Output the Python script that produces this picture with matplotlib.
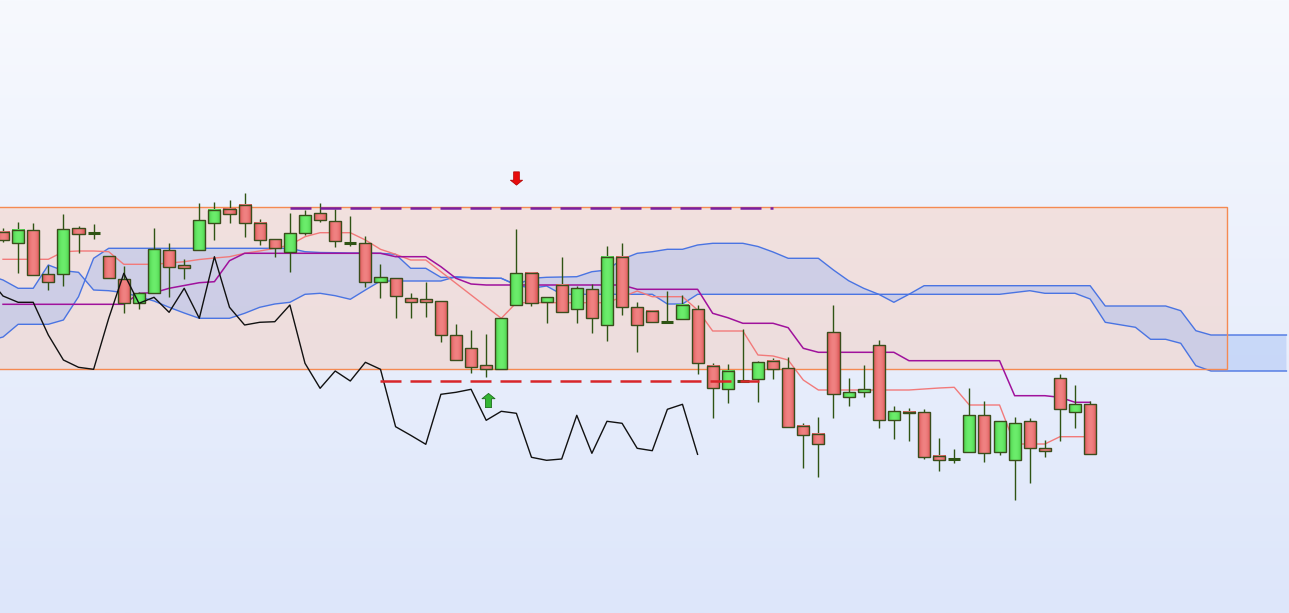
import numpy as np
import matplotlib
matplotlib.use("Agg")
import matplotlib.pyplot as plt
from matplotlib.patches import Rectangle
from matplotlib.path import Path
from matplotlib.colors import to_rgb

# ---- price data (arbitrary price units) ----
opens = [381.3, 369.7, 383.0, 338.7, 338.7, 384.7, 380.3, 357.0, 334.0, 309.7,
         320.3, 363.0, 348.0, 363.0, 389.7, 404.0, 408.0, 390.3, 373.7, 361.3,
         380.0, 399.7, 392.0, 370.3, 369.7, 330.7, 334.7, 314.7, 313.7, 312.0,
         278.0, 264.7, 247.7, 243.7, 308.0, 340.3, 310.7, 328.0, 303.7, 323.7,
         288.0, 356.3, 305.7, 302.3, 291.3, 293.7, 303.7, 247.3, 223.7, 232.0,
         233.7, 252.0, 244.7, 187.0, 179.0, 280.7, 216.3, 220.7, 267.7, 192.7,
         201.3, 200.7, 157.0, 154.0, 160.7, 197.7, 161.3, 152.7, 191.7, 164.7,
         234.7, 201.3, 208.7]
highs = [385.0, 391.3, 389.7, 348.0, 399.0, 387.3, 389.0, 357.0, 347.0, 321.3,
         384.7, 370.3, 354.0, 410.3, 411.3, 413.0, 420.3, 393.7, 373.7, 399.7,
         403.0, 410.3, 403.7, 397.0, 377.0, 349.0, 334.7, 319.7, 331.3, 312.0,
         289.0, 283.0, 279.0, 294.7, 384.0, 340.3, 315.7, 355.7, 327.0, 329.0,
         367.0, 369.7, 311.3, 302.3, 322.0, 318.0, 308.0, 249.7, 248.7, 283.7,
         252.3, 254.7, 255.7, 189.7, 196.3, 308.0, 234.7, 248.0, 273.0, 207.0,
         205.0, 203.7, 174.7, 163.7, 225.0, 211.7, 191.7, 196.3, 194.7, 173.0,
         239.0, 228.0, 212.3]
lows = [371.0, 340.3, 338.0, 323.0, 327.0, 359.7, 374.0, 335.0, 299.7, 303.7,
        320.3, 315.7, 334.0, 363.0, 373.0, 389.7, 376.3, 368.0, 356.3, 341.3,
        378.0, 391.0, 366.3, 367.0, 326.3, 314.7, 294.7, 294.7, 296.3, 271.3,
        253.0, 240.3, 236.3, 243.7, 308.0, 307.3, 290.3, 300.7, 290.3, 280.3,
        272.3, 298.0, 261.3, 290.7, 291.3, 293.7, 238.7, 194.7, 209.7, 231.3,
        211.3, 233.7, 186.3, 145.3, 136.3, 194.7, 207.0, 215.7, 185.3, 174.0,
        172.3, 153.7, 142.3, 149.7, 160.7, 151.3, 158.0, 113.0, 129.7, 155.7,
        172.3, 185.3, 158.7]
closes = [373.0, 383.0, 338.0, 330.7, 383.7, 378.7, 380.3, 335.3, 310.3, 319.7,
          364.0, 346.3, 345.3, 393.0, 403.0, 398.7, 389.7, 373.0, 365.3, 379.7,
          398.0, 393.0, 372.0, 370.3, 330.7, 335.7, 317.0, 310.7, 310.7, 278.0,
          253.0, 245.7, 243.7, 294.7, 339.7, 309.7, 315.7, 300.7, 324.7, 294.7,
          356.3, 305.7, 288.0, 290.7, 291.3, 308.0, 249.7, 224.7, 242.0, 232.0,
          250.7, 243.7, 186.3, 177.7, 168.7, 218.7, 220.7, 223.7, 192.7, 201.7,
          199.7, 155.7, 152.7, 154.0, 197.7, 159.7, 191.7, 189.7, 164.7, 162.3,
          203.7, 208.7, 158.7]

tenkan = [353.7, 353.7, 353.7, 353.7, 361.3, 362.0, 362.0, 361.3, 348.7, 348.7,
          348.7, 350.0, 351.3, 353.5, 355.0, 356.3, 359.7, 362.0, 364.7, 368.0,
          376.3, 380.3, 380.3, 380.3, 373.0, 363.7, 358.7, 353.0, 353.0, 341.3,
          329.7, 318.0, 306.3, 294.7, 310.3, 310.3, 310.3, 310.3, 310.3, 310.3,
          310.3, 316.0, 322.0, 316.3, 316.3, 316.3, 303.0, 282.0, 282.0, 282.0,
          258.0, 257.0, 253.0, 233.0, 223.0, 223.0, 223.0, 223.0, 223.0, 223.0,
          223.0, 224.0, 225.0, 225.7, 208.0, 208.0, 208.0, 169.0, 169.0, 169.0,
          176.3, 176.3, 176.3]
kijun = [308.7, 308.7, 308.7, 308.7, 308.7, 308.7, 308.7, 308.7, 308.7, 319.7,
         320.3, 324.7, 327.5, 330.3, 331.3, 352.3, 359.7, 359.7, 359.7, 359.7,
         359.7, 359.7, 359.7, 359.7, 359.7, 359.7, 356.3, 356.3, 356.3, 346.3,
         334.7, 329.0, 328.0, 328.0, 328.0, 328.0, 328.0, 328.0, 328.0, 328.0,
         328.0, 328.0, 323.7, 323.7, 323.7, 323.7, 323.7, 299.7, 295.3, 289.7,
         289.7, 289.7, 285.3, 264.7, 260.7, 260.7, 260.7, 260.7, 260.7, 260.7,
         252.3, 252.3, 252.3, 252.3, 252.3, 252.3, 252.3, 217.3, 217.3, 217.3,
         215.7, 210.7, 210.7]

# cloud spans, bar index -1 .. 85 (shifted forward)
span_a = [272.0, 276.0, 288.7, 288.7, 288.7, 293.0, 316.3, 354.7, 364.7, 364.7,
          364.7, 364.7, 364.7, 364.7, 364.7, 364.7, 364.7, 364.7, 364.7, 364.7,
          364.7, 361.3, 360.5, 360.3, 360.0, 360.0, 359.7, 358.7, 344.7, 344.7,
          335.7, 335.5, 335.2, 335.0, 334.7, 328.0, 334.7, 335.7, 336.0, 336.3,
          341.3, 343.0, 353.7, 359.7, 361.3, 363.7, 363.7, 368.0, 369.7, 369.7,
          369.7, 366.5, 361.0, 354.7, 354.7, 354.7, 343.0, 332.3, 324.7, 318.7,
          310.7, 318.7, 327.3, 327.3, 327.3, 327.3, 327.3, 327.3, 327.3, 327.3,
          327.3, 327.3, 327.3, 327.3, 307.0, 307.0, 307.0, 307.0, 307.0, 302.3,
          282.3, 278.0, 278.0, 278.0, 278.0, 278.0, 278.0]
span_b = [338.0, 333.0, 324.7, 324.7, 348.0, 342.3, 340.7, 323.0, 322.3, 320.3,
          316.3, 312.0, 305.7, 300.0, 294.7, 294.7, 294.7, 299.7, 305.7, 309.0,
          310.7, 318.7, 319.7, 317.3, 313.7, 323.0, 332.0, 332.0, 332.0, 332.0,
          332.0, 336.3, 335.5, 334.7, 334.7, 328.0, 324.7, 327.0, 318.7, 318.7,
          318.7, 318.7, 318.7, 318.7, 318.7, 309.0, 309.0, 318.7, 318.7, 318.7,
          318.7, 318.7, 318.7, 318.7, 318.7, 318.7, 318.7, 318.7, 318.7, 318.7,
          318.7, 318.7, 318.7, 318.7, 318.7, 318.7, 318.7, 318.7, 320.5, 322.3,
          319.7, 319.7, 319.7, 314.0, 290.7, 288.2, 285.7, 273.7, 273.7, 269.7,
          247.3, 242.0, 242.0, 242.0, 242.0, 242.0, 242.0]

# trading range box and signal levels
range_start, range_end = -3, 81.06
range_high, range_low = 405.7, 244.0
resist_start, resist_end, resist_level = 19, 51, 405.3
support_start, support_end, support_level = 25, 50.1, 232.0
sell_bar, sell_price = 34, 434.7
buy_bar, buy_price = 32.1, 212.8

n = len(closes)
idx = np.arange(n)
cloud_idx = np.arange(-1, len(span_a) - 1)

fig = plt.figure(figsize=(12.89, 6.13), dpi=100)
ax = fig.add_axes([0, 0, 1, 1])
xmin, xmax = -0.2, 85.17
ymin, ymax = 0, 613
ax.set_xlim(xmin, xmax)
ax.set_ylim(ymin, ymax)
ax.set_axis_off()

# background gradient
top, bot = np.array(to_rgb("#f7f9fe")), np.array(to_rgb("#dde6fa"))
t = np.linspace(0, 1, 256)[:, None, None]
grad = top * (1 - t) + bot * t
ax.imshow(grad, extent=(xmin, xmax, ymin, ymax), aspect="auto", zorder=0)

# range box
ax.add_patch(Rectangle((range_start, range_low), range_end - range_start,
                       range_high - range_low, facecolor="#ffb08a", alpha=0.26,
                       edgecolor="none", zorder=1))
ax.add_patch(Rectangle((range_start, range_low), range_end - range_start,
                       range_high - range_low, facecolor="none",
                       edgecolor="#f58a52", lw=1.0, zorder=3))

# ichimoku cloud
ax.fill_between(cloud_idx, span_a, span_b, color="#8fb0f5", alpha=0.35,
                lw=0, zorder=2)
ax.plot(cloud_idx, span_a, color="#4a74e2", lw=1.0, zorder=2.5)
ax.plot(cloud_idx, span_b, color="#4a74e2", lw=1.0, zorder=2.5)
ax.plot(idx, tenkan, color="#f27a7a", lw=1.0, zorder=4)
ax.plot(idx, kijun, color="#a0129c", lw=1.1, zorder=4)

# candles
green_edge, green_mid = np.array(to_rgb("#44c944")), np.array(to_rgb("#6ced6c"))
red_edge, red_mid = np.array(to_rgb("#d85050")), np.array(to_rgb("#f08282"))
u = np.linspace(-1, 1, 24)
w = (1 - u ** 2)[None, :, None]
green_img = green_edge * (1 - w) + green_mid * w
red_img = red_edge * (1 - w) + red_mid * w
half = 0.4
for i in range(n):
    o, h, l, c = opens[i], highs[i], lows[i], closes[i]
    ax.vlines(i, l, h, color="#2f5414", lw=1.0, zorder=5)
    if o == c:
        ax.hlines(o, i - half, i + half, color="#2f5414", lw=2.2, zorder=6)
        continue
    lo, hi = min(o, c), max(o, c)
    img = green_img if c > o else red_img
    ax.imshow(img, extent=(i - half, i + half, lo, hi), aspect="auto",
              zorder=6, interpolation="bilinear")
    ax.add_patch(Rectangle((i - half, lo), 2 * half, hi - lo, facecolor="none",
                           edgecolor="#3a4d1c", lw=1.0, zorder=6.5))

# lagging span
ax.plot(idx - 26, closes, color="#111111", lw=1.0, zorder=7)

# signal levels
ax.plot([resist_start, resist_end], [resist_level, resist_level],
        color="#7a1fa2", lw=1.8, dashes=(8.4, 3.6), zorder=8)
ax.plot([support_start, support_end], [support_level, support_level],
        color="#d8262a", lw=1.8, dashes=(8.4, 3.6), zorder=8)

# signal arrows
down = Path([(-0.43, 1), (0.43, 1), (0.43, -0.25), (0.92, -0.25), (0, -1),
             (-0.92, -0.25), (-0.43, -0.25), (-0.43, 1)], closed=True)
up = Path([(x, -y) for x, y in down.vertices], closed=True)
ax.plot(sell_bar, sell_price, marker=down, markersize=9.6, color="#e80c0c",
        markeredgecolor="#b00000", markeredgewidth=0.5, zorder=9)
ax.plot(buy_bar, buy_price, marker=up, markersize=10.2, color="#33b533",
        markeredgecolor="#1d6e1d", markeredgewidth=0.6, zorder=9)

fig.savefig("out.png", dpi=100)
